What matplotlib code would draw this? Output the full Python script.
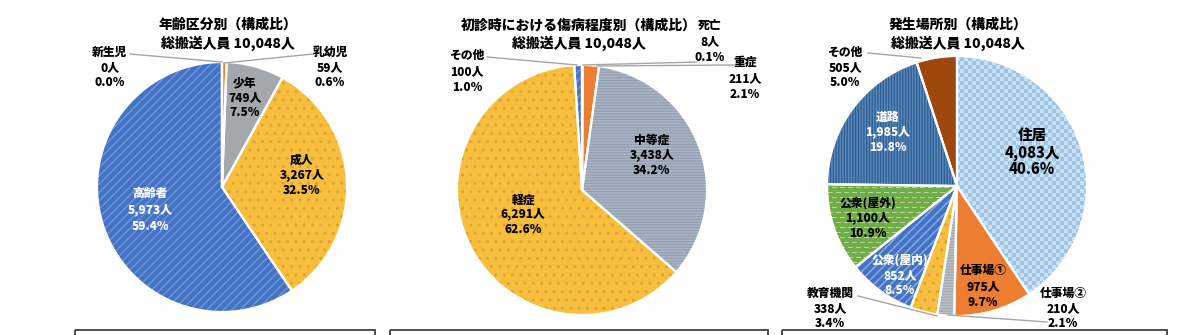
import numpy as np
import matplotlib
matplotlib.use("Agg")
import matplotlib.pyplot as plt
from matplotlib.patches import Wedge, Rectangle
from matplotlib.colors import to_rgb

plt.rcParams['font.family'] = ['Noto Sans CJK JP', 'DejaVu Sans']
plt.rcParams['hatch.linewidth'] = 1.0

W, H = 1200, 335

# ---- data ---------------------------------------------------------------
age_labels = ['新生児', '乳幼児', '少年', '成人', '高齢者']
age_values = [0, 59, 749, 3267, 5973]

sev_labels = ['死亡', '重症', '中等症', '軽症', 'その他']
sev_values = [8, 211, 3438, 6291, 100]

place_labels = ['住居', '仕事場①', '仕事場②', '教育機関', '公衆(屋内)', '公衆(屋外)', '道路', 'その他']
place_values = [4083, 975, 210, 338, 852, 1100, 1985, 505]

titles = ['年齢区分別（構成比）', '初診時における傷病程度別（構成比）', '発生場所別（構成比）']

# ---- styles -------------------------------------------------------------
BLUE, BLUE_H = '#4473C5', '#6E96D8'
GOLD, GOLD_H = '#F8BE3C', '#D6A53A'
ORANGE = '#ED7D31'
GRAY = '#A3A8AF'
SLATE, SLATE_H = '#939FB0', '#ACB7C6'
NAVY, NAVY_H = '#2C5F98', '#5F89B8'
GREEN, GREEN_H = '#70AD47', '#B9DA9F'
SKY, SKY_H = '#9CC3E8', '#CCE0F4'
BROWN = '#9E480E'
LEADER = '#A6A6A6'
WEIGHT = 'heavy'

fig = plt.figure(figsize=(12, 3.35), dpi=100)
PAD = 1.15


def pie_axes(cx, cy, r):
    s = r * PAD
    ax = fig.add_axes([(cx - s) / W, 1 - (cy + s) / H, 2 * s / W, 2 * s / H])
    ax.axis('off')
    return ax


def fix_limits(ax):
    ax.set_xlim(-PAD, PAD)
    ax.set_ylim(-PAD, PAD)
    ax.set_aspect('equal')


def draw_pie(ax, values, faces, hatches, hatch_colors):
    wedges, _ = ax.pie(values, colors=faces, startangle=90, counterclock=False,
                       radius=1, wedgeprops=dict(linewidth=0))
    for w, h, hc in zip(wedges, hatches, hatch_colors):
        w.set_zorder(1)
        if h:
            w.set_edgecolor(hc)
            w.set_hatch(h)
    for w in wedges:
        ax.add_patch(Wedge(w.center, w.r, w.theta1, w.theta2, facecolor='none',
                           edgecolor='white', linewidth=1.6, zorder=3))
    return wedges


def pattern_fill(ax, wedge, r_px, kind, c1, c2):
    n = int(2 * PAD * r_px)
    yy, xx = np.mgrid[0:n, 0:n]
    if kind == 'checker':
        mask = ((xx // 4 + yy // 4) % 2) == 0
    else:  # staggered dashes
        row = yy // 5
        mask = (yy % 5 == 0) & (((xx + (row % 2) * 4) % 8) < 5)
    img = np.where(mask[..., None], np.array(to_rgb(c2)), np.array(to_rgb(c1)))
    im = ax.imshow(img, extent=[-PAD, PAD, -PAD, PAD], interpolation='nearest', zorder=2)
    im.set_clip_path(wedge)


# ---- chart 1: age groups -------------------------------------------------
ax1 = pie_axes(222, 187, 125)
draw_pie(ax1, age_values,
         ['white', ORANGE, GRAY, GOLD, BLUE],
         [None, None, None, '..', '////'],
         [None, None, None, GOLD_H, BLUE_H])
fix_limits(ax1)

# ---- chart 2: severity ---------------------------------------------------
ax2 = pie_axes(582, 190, 125)
draw_pie(ax2, sev_values,
         ['#C00000', ORANGE, SLATE, GOLD, BLUE],
         [None, None, '------', '..', '////'],
         [None, None, SLATE_H, GOLD_H, BLUE_H])
fix_limits(ax2)

# ---- chart 3: place of occurrence ---------------------------------------
ax3 = pie_axes(957, 186, 130)
w3 = draw_pie(ax3, place_values,
              [SKY, ORANGE, GRAY, GOLD, BLUE, GREEN, NAVY, BROWN],
              [None, None, '------', '..', '////', None, '||||||', None],
              [None, None, '#BEC3CA', GOLD_H, '#90B0E4', None, NAVY_H, None])
pattern_fill(ax3, w3[0], 130, 'checker', SKY, SKY_H)
pattern_fill(ax3, w3[5], 130, 'dash', GREEN, GREEN_H)
fix_limits(ax3)

# ---- overlay for titles, labels, leaders and frames ---------------------
ov = fig.add_axes([0, 0, 1, 1])
ov.set_xlim(0, W)
ov.set_ylim(H, 0)
ov.axis('off')


def pct(v, total):
    return f'{v / total * 100:.1f}%'


def block(x, ys, lines, color='black', size=8.5):
    for y, s in zip(ys, lines):
        ov.text(x, y, s, ha='center', va='center', fontsize=size,
                fontweight=WEIGHT, color=color)


def slice_label(x, ys, name, v, total, color='black', size=8.5):
    block(x, ys, [name, f'{v:,}人', pct(v, total)], color, size)


def leader(x0, y0, x1, y1):
    ov.plot([x0, x1], [y0, y1], color=LEADER, lw=1.0)


def title(x, y, t, total):
    block(x, [y, y + 18], [t, f'総搬送人員 {total:,}人'], size=10)


# chart 1 text
t1 = sum(age_values)
title(228, 25, titles[0], t1)
pos1 = {
    '新生児': (110, [52, 67, 82], 'black'),
    '乳幼児': (330, [52, 67, 82], 'black'),
    '少年': (245, [82, 97, 112], 'black'),
    '成人': (302, [160, 175, 190], 'black'),
    '高齢者': (150, [193, 210, 226], 'white'),
}
for name, v in zip(age_labels, age_values):
    x, ys, c = pos1[name]
    slice_label(x, ys, name, v, t1, c)
leader(130, 54, 222, 62)
leader(313, 54, 224, 63)

# chart 2 text
t2 = sum(sev_values)
title(579, 25, titles[1], t2)
pos2 = {
    '死亡': (710, [25, 41, 57]),
    '重症': (745, [62, 78, 94]),
    '中等症': (652, [140, 155, 170]),
    '軽症': (523, [200, 214, 229]),
    'その他': (467, [55, 71, 87]),
}
for name, v in zip(sev_labels, sev_values):
    x, ys = pos2[name]
    slice_label(x, ys, name, v, t2)
leader(697, 62, 583, 65)
leader(734, 65, 597, 66)
leader(487, 57, 577, 65)

# chart 3 text
t3 = sum(place_values)
title(958, 25, titles[2], t3)
pos3 = {
    '住居': (1032, [135, 153, 170], 'black', 10.5),
    '仕事場①': (983, [270, 286, 302], 'black', 8.5),
    '仕事場②': (1063, [293, 308, 323], 'black', 8.5),
    '教育機関': (830, [293, 308, 323], 'black', 8.5),
    '公衆(屋内)': (900, [260, 275, 290], 'white', 8.5),
    '公衆(屋外)': (868, [203, 218, 233], 'black', 8.5),
    '道路': (888, [117, 132, 147], 'white', 8.5),
    'その他': (845, [52, 67, 82], 'black', 8.5),
}
for name, v in zip(place_labels, place_values):
    x, ys, c, fs = pos3[name]
    slice_label(x, ys, name, v, t3, c, fs)
leader(868, 53, 921, 58)
leader(858, 296, 937, 316)
leader(1047, 322, 948, 315)

# frames below each chart
for x0, x1 in [(75, 375), (390, 768), (782, 1167)]:
    ov.add_patch(Rectangle((x0, 330), x1 - x0, 20, facecolor='none',
                           edgecolor='#404040', linewidth=1.3, clip_on=False))

fig.savefig('out.png', dpi=100, facecolor='white')
